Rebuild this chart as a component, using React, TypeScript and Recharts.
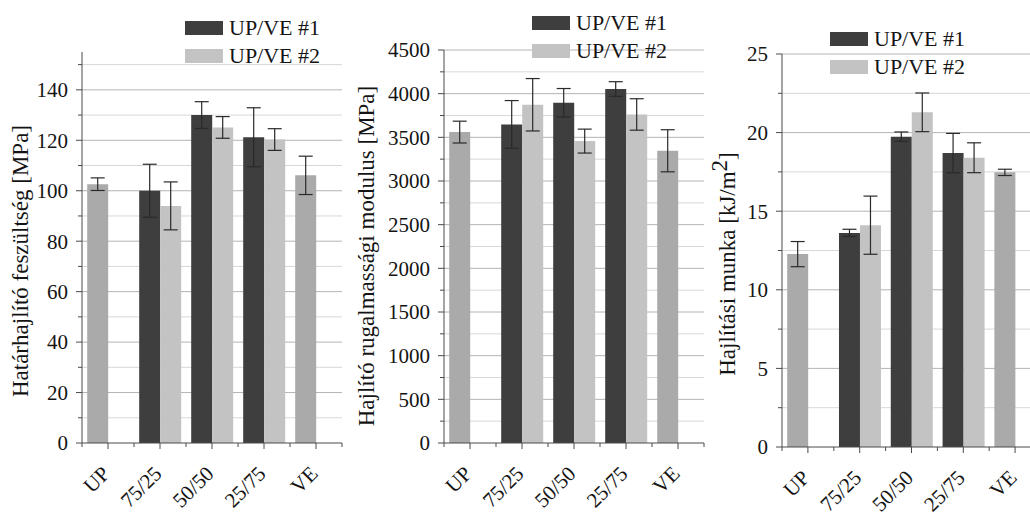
import { BarChart, Bar, XAxis, YAxis, CartesianGrid, ErrorBar, Cell, Legend, Label } from "recharts";

// categories (UP and VE are the neat resins, drawn as a single grey bar)
const categories = ["UP", "75/25", "50/50", "25/75", "VE"];

// Határhajlító feszültség [MPa]
const strength1 = [102.6, 100, 130, 121.2, 106.1];
const strength1Err = [2.5, 10.5, 5.3, 11.7, 7.6];
const strength2 = [null, 94, 125.1, 120.3, null];
const strength2Err = [null, 9.5, 4.3, 4.3, null];
const strengthTicks = [0, 10, 20, 30, 40, 50, 60, 70, 80, 90, 100, 110, 120, 130, 140, 150];

// Hajlító rugalmassági modulus [MPa]
const modulus1 = [3560, 3648, 3896, 4053, 3346];
const modulus1Err = [125, 273, 163, 84, 241];
const modulus2 = [null, 3873, 3457, 3762, null];
const modulus2Err = [null, 300, 137, 180, null];
const modulusTicks = [0, 250, 500, 750, 1000, 1250, 1500, 1750, 2000, 2250, 2500, 2750, 3000, 3250, 3500, 3750, 4000, 4250, 4500];

// Hajlítási munka [kJ/m2]
const work1 = [12.27, 13.62, 19.74, 18.7, 17.47];
const work1Err = [0.8, 0.23, 0.3, 1.25, 0.2];
const work2 = [null, 14.11, 21.29, 18.4, null];
const work2Err = [null, 1.85, 1.23, 0.95, null];
const workTicks = [0, 2.5, 5, 7.5, 10, 12.5, 15, 17.5, 20, 22.5, 25];

const DARK = "#3e3e3e";
const LIGHT = "#c3c3c3";
const NEAT = "#aaaaaa";
const INK = "#141414";
const AXIS = "#4a4a4a";
const FONT = "Liberation Serif, Times New Roman, serif";

function makeRows(s1: any[], e1: any[], s2: any[], e2: any[]) {
  return categories.map((c, i) => ({ name: c, v1: s1[i], e1: e1[i], v2: s2[i], e2: e2[i] }));
}

function XTick(props: any) {
  const { x, y, payload } = props;
  const half = payload.offset || 26;
  return (
    <g>
      <line x1={x} y1={y} x2={x} y2={y + 6} stroke={AXIS} />
      <line x1={x - half} y1={y} x2={x - half} y2={y + 4} stroke={AXIS} />
      {payload.index === categories.length - 1 && (
        <line x1={x + half} y1={y} x2={x + half} y2={y + 4} stroke={AXIS} />
      )}
      <text
        x={x + 3}
        y={y + 32}
        transform={`rotate(-45, ${x + 3}, ${y + 32})`}
        textAnchor="end"
        style={{ fontFamily: FONT, fontSize: 21 }}
        fill={INK}
      >
        {payload.value}
      </text>
    </g>
  );
}

function makeYTick(step: number) {
  return (props: any) => {
    const { x, y, payload } = props;
    const r = payload.value / step;
    const major = Math.abs(r - Math.round(r)) < 1e-6;
    return (
      <g>
        <line x1={x - (major ? 6 : 4)} y1={y} x2={x} y2={y} stroke={AXIS} />
        {major && (
          <text x={x - 14} y={y} dy="0.35em" textAnchor="end" style={{ fontFamily: FONT, fontSize: 21 }} fill={INK}>
            {payload.value}
          </text>
        )}
      </g>
    );
  };
}

function LegendBox(props: any) {
  const { payload } = props;
  return (
    <div style={{ fontFamily: FONT, fontSize: 22, color: INK }}>
      {(payload || []).map((p: any) => (
        <div key={p.value} style={{ display: "flex", alignItems: "center", height: 28, whiteSpace: "nowrap" }}>
          <span style={{ display: "inline-block", width: 38, height: 14, background: p.color, marginRight: 6 }} />
          {p.value}
        </div>
      ))}
    </div>
  );
}

interface PanelProps {
  left: number;
  width: number;
  top: number;
  bottom: number;
  yWidth: number;
  right: number;
  data: any[];
  ticks: number[];
  step: number;
  domain: number[];
  title: any;
  titleX: number;
  titleY: number;
  legendLeft: number;
  legendTop: number;
}

function Panel(p: PanelProps) {
  const major = p.ticks.filter((t) => Math.abs(t / p.step - Math.round(t / p.step)) < 1e-6 && t > 0);
  const minor = p.ticks.filter((t) => Math.abs(t / p.step - Math.round(t / p.step)) >= 1e-6);
  return (
    <div style={{ position: "absolute", left: p.left, top: 0 }}>
      <BarChart
        width={p.width}
        height={514}
        data={p.data}
        margin={{ top: p.top, right: p.right, bottom: p.bottom, left: 0 }}
        barCategoryGap="10%"
        barGap={0}
      >
        <CartesianGrid vertical={false} horizontalValues={minor} stroke="#d8d8d8" />
        <CartesianGrid vertical={false} horizontalValues={major} stroke="#b4b4b4" />
        <XAxis
          dataKey="name"
          height={60}
          interval={0}
          tickSize={0}
          tickMargin={0}
          tickLine={false}
          axisLine={{ stroke: AXIS }}
          tick={<XTick />}
        />
        <YAxis
          width={p.yWidth}
          domain={p.domain}
          ticks={p.ticks}
          interval={0}
          allowDataOverflow
          tickSize={0}
          tickMargin={0}
          tickLine={false}
          axisLine={{ stroke: AXIS }}
          tick={makeYTick(p.step)}
        >
          <Label
            content={() => (
              <text
                x={p.titleX}
                y={p.titleY}
                transform={`rotate(-90, ${p.titleX}, ${p.titleY})`}
                textAnchor="middle"
                style={{ fontFamily: FONT, fontSize: 23 }}
                fill={INK}
              >
                {p.title}
              </text>
            )}
          />
        </YAxis>
        <Legend
          layout="vertical"
          align="center"
          verticalAlign="middle"
          wrapperStyle={{ left: p.legendLeft, top: p.legendTop, width: "auto" }}
          content={<LegendBox />}
        />
        <Bar dataKey="v1" name="UP/VE #1" fill={DARK} isAnimationActive={false}>
          {p.data.map((d, i) => (
            <Cell key={`c1-${i}`} fill={d.v2 == null ? NEAT : DARK} />
          ))}
          <ErrorBar dataKey="e1" width={7} stroke="#2a2a2a" strokeWidth={1.2} isAnimationActive={false} />
        </Bar>
        <Bar dataKey="v2" name="UP/VE #2" fill={LIGHT} isAnimationActive={false}>
          <ErrorBar dataKey="e2" width={7} stroke="#2a2a2a" strokeWidth={1.2} isAnimationActive={false} />
        </Bar>
      </BarChart>
    </div>
  );
}

export default function App() {
  return (
    <div style={{ position: "absolute", left: 0, top: 0, width: 1030, height: 514, overflow: "hidden", background: "#fff" }}>
      <Panel
        left={0}
        width={345}
        top={52}
        bottom={11}
        yWidth={82}
        right={3}
        data={makeRows(strength1, strength1Err, strength2, strength2Err)}
        ticks={strengthTicks}
        step={20}
        domain={[0, 155]}
        title="Határhajlító feszültség [MPa]"
        titleX={28}
        titleY={261}
        legendLeft={185}
        legendTop={14}
      />
      <Panel
        left={345}
        width={360}
        top={50}
        bottom={11}
        yWidth={99}
        right={1}
        data={makeRows(modulus1, modulus1Err, modulus2, modulus2Err)}
        ticks={modulusTicks}
        step={500}
        domain={[0, 4500]}
        title="Hajlító rugalmassági modulus [MPa]"
        titleX={29}
        titleY={256}
        legendLeft={187}
        legendTop={9}
      />
      <Panel
        left={700}
        width={341}
        top={54}
        bottom={7}
        yWidth={82}
        right={0}
        data={makeRows(work1, work1Err, work2, work2Err)}
        ticks={workTicks}
        step={5}
        domain={[0, 25]}
        title={
          <>
            Hajlítási munka [kJ/m
            <tspan dy={-8}>2</tspan>
            <tspan dy={8}>]</tspan>
          </>
        }
        titleX={35}
        titleY={264}
        legendLeft={130}
        legendTop={25}
      />
    </div>
  );
}
